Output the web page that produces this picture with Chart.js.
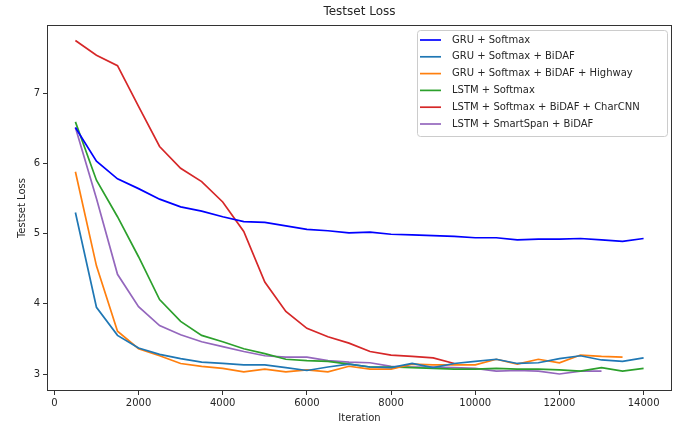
<!DOCTYPE html>
<html>
<head>
<meta charset="utf-8">
<script src="https://cdn.jsdelivr.net/npm/chart.js@4/dist/chart.umd.min.js"></script>
<style>
  html, body { margin: 0; padding: 0; background: #fff; }
  #wrap { width: 681px; height: 428px; }
</style>
</head>
<body>
<div id="wrap"><canvas id="lossChart" width="681" height="428"></canvas></div>
<script>
// iterations at which the test loss was measured
const iterations = [500, 1000, 1500, 2000, 2500, 3000, 3500, 4000, 4500, 5000,
  5500, 6000, 6500, 7000, 7500, 8000, 8500, 9000, 9500, 10000,
  10500, 11000, 11500, 12000, 12500, 13000, 13500, 14000];

const gruSoftmax = [6.51, 6.03, 5.78, 5.64, 5.49, 5.38, 5.32, 5.24, 5.17, 5.16,
  5.11, 5.06, 5.04, 5.01, 5.02, 4.99, 4.98, 4.97, 4.96, 4.94,
  4.94, 4.91, 4.92, 4.92, 4.93, 4.91, 4.89, 4.93];
const gruBidaf = [5.30, 3.95, 3.55, 3.37, 3.28, 3.22, 3.17, 3.15, 3.13, 3.13,
  3.09, 3.05, 3.10, 3.14, 3.10, 3.09, 3.15, 3.09, 3.15, 3.18,
  3.21, 3.15, 3.16, 3.22, 3.26, 3.20, 3.18, 3.23];
const gruHighway = [5.88, 4.54, 3.61, 3.36, 3.26, 3.15, 3.11, 3.08, 3.03, 3.07,
  3.03, 3.06, 3.03, 3.11, 3.07, 3.07, 3.14, 3.13, 3.13, 3.13,
  3.21, 3.14, 3.21, 3.16, 3.27, 3.25, 3.24];
const lstmSoftmax = [6.59, 5.76, 5.24, 4.67, 4.06, 3.75, 3.55, 3.46, 3.36, 3.29,
  3.21, 3.19, 3.18, 3.14, 3.10, 3.10, 3.09, 3.08, 3.07, 3.07,
  3.08, 3.07, 3.07, 3.06, 3.04, 3.09, 3.04, 3.08];
const lstmCharCnn = [7.75, 7.54, 7.39, 6.81, 6.24, 5.93, 5.74, 5.45, 5.03, 4.31,
  3.89, 3.65, 3.53, 3.44, 3.32, 3.27, 3.25, 3.23, 3.15];
const lstmSmartSpan = [6.51, 5.50, 4.42, 3.96, 3.69, 3.56, 3.46, 3.39, 3.32, 3.26,
  3.24, 3.24, 3.19, 3.17, 3.16, 3.11, 3.10, 3.10, 3.09, 3.08,
  3.04, 3.05, 3.04, 3.00, 3.04, 3.04];

const seriesNames = ['GRU + Softmax', 'GRU + Softmax + BiDAF', 'GRU + Softmax + BiDAF + Highway',
  'LSTM + Softmax', 'LSTM + Softmax + BiDAF + CharCNN', 'LSTM + SmartSpan + BiDAF'];
const seriesColors = ['#0000ff', '#1f77b4', '#ff7f0e', '#2ca02c', '#d62728', '#9467bd'];
const allSeries = [gruSoftmax, gruBidaf, gruHighway, lstmSoftmax, lstmCharCnn, lstmSmartSpan];

const xTicks = [0, 2000, 4000, 6000, 8000, 10000, 12000, 14000];
const yTicks = [3, 4, 5, 6, 7];

const FONT = 'DejaVu Sans';
const TEXT = '#262626';

// pair each value with its iteration (some runs stop early)
function toPoints(values) {
  return values.map((v, i) => ({ x: iterations[i], y: v }));
}

// matplotlib-like frame, title and legend box
const decorations = {
  id: 'decorations',
  afterDraw(chart) {
    const { ctx, chartArea: a } = chart;
    ctx.save();
    ctx.strokeStyle = '#333';
    ctx.lineWidth = 1;
    ctx.strokeRect(a.left + 0.5, a.top + 0.5, a.right - a.left - 1, a.bottom - a.top - 1);

    ctx.fillStyle = TEXT;
    ctx.font = '12px "' + FONT + '"';
    ctx.textAlign = 'center';
    ctx.textBaseline = 'middle';
    ctx.fillText('Testset Loss', (a.left + a.right) / 2, 12);

    // legend
    const bx = 417, by = 30, bw = 250, bh = 106;
    ctx.fillStyle = 'rgba(255,255,255,0.85)';
    ctx.strokeStyle = '#cccccc';
    ctx.beginPath();
    ctx.roundRect(bx + 0.5, by + 0.5, bw, bh, 3);
    ctx.fill();
    ctx.stroke();
    ctx.font = '10px "' + FONT + '"';
    ctx.textAlign = 'left';
    chart.data.datasets.forEach((ds, i) => {
      const y = by + 10 + i * 16.8;
      ctx.strokeStyle = ds.borderColor;
      ctx.lineWidth = 1.7;
      ctx.beginPath();
      ctx.moveTo(bx + 3, y);
      ctx.lineTo(bx + 24, y);
      ctx.stroke();
      ctx.fillStyle = TEXT;
      ctx.fillText(ds.label, bx + 35, y);
    });
    ctx.restore();
  }
};

const ctx = document.getElementById('lossChart').getContext('2d');
new Chart(ctx, {
  type: 'line',
  data: {
    datasets: allSeries.map((values, i) => ({
      label: seriesNames[i],
      data: toPoints(values),
      borderColor: seriesColors[i],
      backgroundColor: seriesColors[i],
      borderWidth: 1.7,
      pointRadius: 0,
      tension: 0,
      fill: false
    }))
  },
  options: {
    responsive: false,
    animation: false,
    layout: { padding: { top: 25, right: 9, left: 12, bottom: 0 } },
    plugins: {
      legend: { display: false },
      tooltip: { enabled: false }
    },
    scales: {
      x: {
        type: 'linear',
        min: -175,
        max: 14675,
        afterBuildTicks: s => { s.ticks = xTicks.map(v => ({ value: v })); },
        afterFit: s => { s.height = 37; },
        grid: { drawOnChartArea: false, tickLength: 4, color: '#333' },
        border: { display: false },
        ticks: { color: TEXT, font: { family: FONT, size: 10 }, padding: 2, maxRotation: 0,
          callback: v => String(v) },
        title: { display: true, text: 'Iteration', color: TEXT, font: { family: FONT, size: 10 }, padding: { top: 0 } }
      },
      y: {
        min: 2.758,
        max: 7.97,
        afterBuildTicks: s => { s.ticks = yTicks.map(v => ({ value: v })); },
        afterFit: s => { s.width = 35; },
        grid: { drawOnChartArea: false, tickLength: 4, color: '#333' },
        border: { display: false },
        ticks: { color: TEXT, font: { family: FONT, size: 10 }, padding: 3, callback: v => String(v) },
        title: { display: true, text: 'Testset Loss', color: TEXT, font: { family: FONT, size: 10 }, padding: { bottom: 2 } }
      }
    }
  },
  plugins: [decorations]
});
</script>
</body>
</html>
